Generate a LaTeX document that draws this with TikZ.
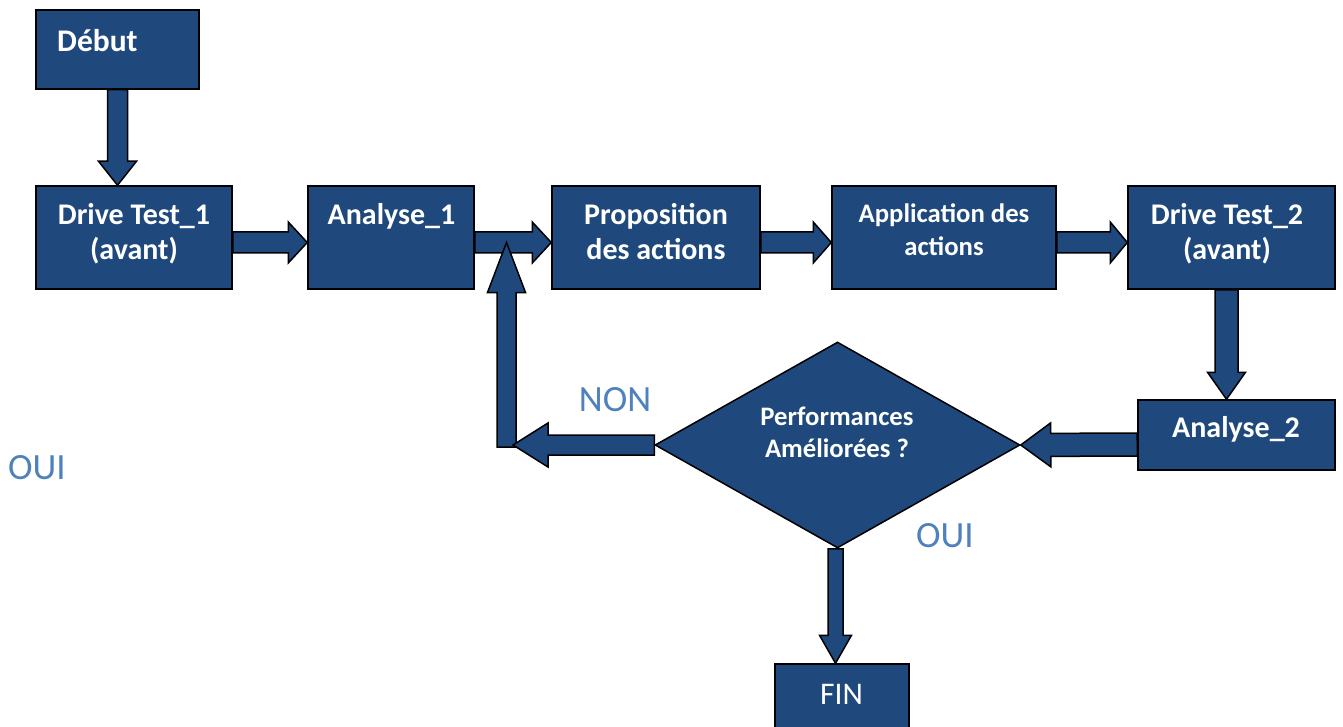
\documentclass[tikz,border=0pt]{standalone}
\usepackage{fontspec}
\setmainfont{Carlito}
\usetikzlibrary{calc,shapes.geometric}

\definecolor{boxblue}{HTML}{1F497D}
\definecolor{labelblue}{HTML}{4F81BD}

% Block arrow: #1 start, #2 tip, #3 shaft half width, #4 head half width, #5 head length
\newcommand\blockarrow[5]{%
  \draw[flowarrow]
    ($(#1)!#3!90:(#2)$) --
    ($(#2)!#5!(#1)!#3!90:(#2)$) --
    ($(#2)!#5!(#1)!#4!90:(#2)$) --
    (#2) --
    ($(#2)!#5!(#1)!#4!-90:(#2)$) --
    ($(#2)!#5!(#1)!#3!-90:(#2)$) --
    ($(#1)!#3!-90:(#2)$) -- cycle;}

\tikzset{
  stepbox/.style={draw=black, line width=1.5pt, fill=boxblue, rectangle,
    inner sep=0pt, minimum width=#1},
  stepbox/.default=160pt,
  flowarrow/.style={draw=black, line width=1.5pt, fill=boxblue, line join=miter},
  boxtext/.style={anchor=base, text=white, inner sep=0pt,
    font=\bfseries\fontsize{30}{36}\selectfont},
  smalltext/.style={boxtext, font=\bfseries\fontsize{26.7}{32}\selectfont},
  plaintext/.style={anchor=base, text=white, inner sep=0pt,
    font=\fontsize{31.5}{38}\selectfont},
  answer/.style={anchor=base, text=labelblue, inner sep=0pt,
    font=\fontsize{37}{44}\selectfont},
}

\begin{document}
\begin{tikzpicture}[x=1pt, y=-1pt]
\clip (0,0) rectangle (1343,727);
\fill[white] (0,0) rectangle (1343,727);

% process boxes
\node[stepbox=163pt, minimum height=79pt]  (debut) at (117.5,49.5) {};
\node[stepbox=196pt, minimum height=103pt] (dt1)   at (134,237.5) {};
\node[stepbox=166pt, minimum height=103pt] (an1)   at (391,237.5) {};
\node[stepbox=208pt, minimum height=103pt] (prop)  at (656,237.5) {};
\node[stepbox=224pt, minimum height=103pt] (app)   at (944,237.5) {};
\node[stepbox=207pt, minimum height=103pt] (dt2)   at (1231.5,237.5) {};
\node[stepbox=197pt, minimum height=70pt]  (an2)   at (1236.5,435) {};
\node[stepbox=134pt, minimum height=80pt]  (fin)   at (842,704) {};
\node[draw=black, line width=1.5pt, fill=boxblue, diamond, inner sep=0pt,
      minimum width=365pt, minimum height=206pt] (perf) at (837.5,445) {};

% box texts
\node[boxtext, anchor=base west, font=\bfseries\fontsize{31.5}{38}\selectfont] (tdebut) at (57,52) {Début};
\node[boxtext] (tdt1a) at (134,225) {Drive Test\_1};
\node[boxtext] (tdt1b) at (134,260) {(avant)};
\node[boxtext] (tan1)  at (391.5,225) {Analyse\_1};
\node[boxtext] (tpropa) at (656,225) {Proposition};
\node[boxtext] (tpropb) at (656,260) {des actions};
\node[smalltext] (tappa) at (944,223) {Application des};
\node[smalltext] (tappb) at (944,255) {actions};
\node[boxtext] (tdt2a) at (1227,225) {Drive Test\_2};
\node[boxtext] (tdt2b) at (1227,260) {(avant)};
\node[boxtext] (tan2)  at (1236,437) {Analyse\_2};
\node[smalltext] (tperfa) at (837,425) {Performances};
\node[smalltext] (tperfb) at (837,457) {Améliorées ?};
\node[plaintext] (tfin) at (841.5,704) {FIN};

% answer labels
\node[answer] (lnon)  at (615,411) {NON};
\node[answer] (loui)  at (945,547) {OUI};
\node[answer] (loui2) at (37,479) {OUI};

% connector end points
\coordinate (c1s) at (debut.south);
\coordinate (c1e) at (debut.south |- dt1.north);
\coordinate (c2s) at ($(dt1.east)+(0,5)$);
\coordinate (c2e) at (c2s -| an1.west);
\coordinate (c3s) at ($(an1.east)+(0,5)$);
\coordinate (c3e) at (c3s -| prop.west);
\coordinate (c4s) at ($(prop.east)+(0,5)$);
\coordinate (c4e) at (c4s -| app.west);
\coordinate (c5s) at ($(app.east)+(0,5)$);
\coordinate (c5e) at (c5s -| dt2.west);
\coordinate (c6s) at ($(dt2.south)+(-5,0)$);
\coordinate (c6e) at (c6s |- an2.north);
\coordinate (c7s) at ($(an2.west)+(0,9.5)$);
\coordinate (c7e) at (perf.east);
\coordinate (c8s) at (perf.west);
\coordinate (loop) at (513,445);
\coordinate (c9s) at (506.5,447);
\coordinate (c9e) at (c9s |- c3s);
\coordinate (c10s) at ($(perf.south)+(-2,0)$);
\coordinate (c10e) at (c10s |- fin.north);

% block arrows
\blockarrow{c1s}{c1e}{10pt}{19pt}{24pt}
\blockarrow{c2s}{c2e}{10.5pt}{20.5pt}{19pt}
\blockarrow{c3s}{c3e}{10.5pt}{20.5pt}{19pt}
\blockarrow{c4s}{c4e}{10.5pt}{20.5pt}{18pt}
\blockarrow{c5s}{c5e}{10.5pt}{20.5pt}{17pt}
\blockarrow{c6s}{c6e}{11.5pt}{19pt}{27pt}
\blockarrow{c7s}{c7e}{11.5pt}{22pt}{30pt}
\blockarrow{c9s}{c9e}{9.5pt}{19pt}{50pt}
\blockarrow{c8s}{loop}{10pt}{22pt}{35pt}
\blockarrow{c10s}{c10e}{7.5pt}{16pt}{28pt}
\end{tikzpicture}
\end{document}
